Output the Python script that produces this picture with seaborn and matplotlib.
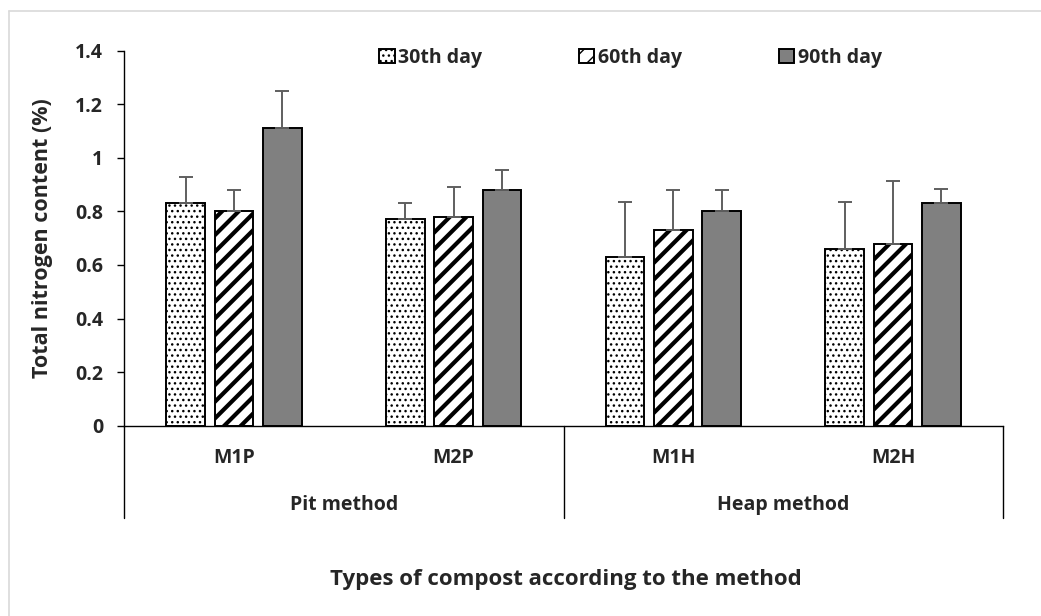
import matplotlib
matplotlib.use("Agg")
import matplotlib.pyplot as plt
import matplotlib.lines as mlines
import numpy as np
import pandas as pd
import seaborn as sns

# ---- data ----
categories = ["M1P", "M2P", "M1H", "M2H"]
methods = ["Pit method", "Heap method"]
method_of_cat = ["Pit method", "Pit method", "Heap method", "Heap method"]
days = ["30th day", "60th day", "90th day"]
vals30 = [0.83, 0.77, 0.63, 0.66]
vals60 = [0.80, 0.78, 0.73, 0.68]
vals90 = [1.11, 0.88, 0.80, 0.83]
err30 = [0.10, 0.06, 0.205, 0.175]
err60 = [0.08, 0.11, 0.15, 0.235]
err90 = [0.14, 0.075, 0.08, 0.055]
yticks = [0, 0.2, 0.4, 0.6, 0.8, 1, 1.2, 1.4]
ytick_labels = ["0", "0.2", "0.4", "0.6", "0.8", "1", "1.2", "1.4"]

sns.set_theme(style="white")
plt.rcParams["font.family"] = ["Open Sans", "DejaVu Sans"]
plt.rcParams["font.weight"] = "bold"

rows = []
for vals, errs, d in [(vals30, err30, days[0]), (vals60, err60, days[1]), (vals90, err90, days[2])]:
    for c, v, e in zip(categories, vals, errs):
        rows.append({"compost": c, "value": v, "err": e, "day": d})
df = pd.DataFrame(rows)

fig = plt.figure(figsize=(10.41, 6.16), dpi=100)
ax = fig.add_axes([124 / 1041, 1 - 425.7 / 616, (1003 - 124) / 1041, 375 / 616])

sns.barplot(data=df, x="compost", y="value", hue="day", order=categories,
            hue_order=days, palette=["white", "white", "#808080"],
            edgecolor="black", linewidth=1.4, width=0.66, gap=0.2,
            errorbar=None, ax=ax, legend=False, saturation=1)

hatches = ["...", "//", None]
hlw = [1.0, 3.0, 1.0]
errs_by_day = [err30, err60, err90]
bar_containers = list(ax.containers)
for i, cont in enumerate(bar_containers):
    xs, hs = [], []
    for p in cont.patches:
        if hatches[i]:
            p.set_hatch(hatches[i])
            if hasattr(p, "set_hatch_linewidth"):
                p.set_hatch_linewidth(hlw[i])
        p.set_edgecolor("black")
        xs.append(p.get_x() + p.get_width() / 2)
        hs.append(p.get_height())
    e = errs_by_day[i]
    ax.errorbar(xs, hs, yerr=[np.zeros(len(e)), e], fmt="none",
                ecolor="#5f5f5f", elinewidth=1.4, capsize=5, capthick=1.4, zorder=1)

FS = 14
ax.set_xlim(-0.5, 3.5)
ax.set_ylim(0, 1.4)
ax.set_yticks(yticks)
ax.set_yticklabels(ytick_labels, fontsize=FS, fontweight="bold")
ax.tick_params(axis="y", which="both", left=True, length=5, width=1, color="black", pad=10)
ax.set_xticks(range(len(categories)))
ax.set_xticklabels(categories, fontsize=FS, fontweight="bold")
ax.tick_params(axis="x", bottom=False, pad=17)
for lab in ax.get_xticklabels():
    lab.set_verticalalignment("center")

for s in ["top", "right"]:
    ax.spines[s].set_visible(False)
ax.spines["left"].set_color("black")
ax.spines["bottom"].set_color("black")
ax.spines["left"].set_linewidth(1)
ax.spines["bottom"].set_linewidth(1)

ax.set_xlabel("")
ax.set_ylabel("Total nitrogen content (%)", fontsize=15.5, fontweight="bold", labelpad=16)

# group dividers and labels
trans = ax.get_xaxis_transform()
for xb in [-0.5, 1.5, 3.5]:
    ax.add_line(mlines.Line2D([xb, xb], [0, -0.246], transform=trans, color="black",
                              lw=1, clip_on=False))
for m in methods:
    pos = [i for i, mc in enumerate(method_of_cat) if mc == m]
    ax.text(np.mean(pos), -0.212, m, transform=trans, ha="center", va="center",
            fontsize=FS, fontweight="bold")

fig.text(566 / 1041, 1 - 580 / 616, "Types of compost according to the method",
         ha="center", va="center", fontsize=16, fontweight="bold")

handles = [c.patches[0] for c in bar_containers]
leg = ax.legend(handles, days, loc="upper left", bbox_to_anchor=(379 / 1041, 1 - 48 / 616),
                bbox_transform=fig.transFigure, ncol=3, frameon=False,
                handlelength=0.8, handleheight=0.75, handletextpad=0.2,
                columnspacing=4.95, borderaxespad=0, borderpad=0,
                prop={"size": FS, "weight": "bold"})

# light frame of the chart area
fig.add_artist(mlines.Line2D([9 / 1041, 9 / 1041], [0, 1 - 11 / 616],
                             transform=fig.transFigure, color="#d9d9d9", lw=1.2))
fig.add_artist(mlines.Line2D([9 / 1041, 1], [1 - 11 / 616, 1 - 11 / 616],
                             transform=fig.transFigure, color="#d9d9d9", lw=1.2))

fig.savefig("out.png", dpi=100, facecolor="white")
